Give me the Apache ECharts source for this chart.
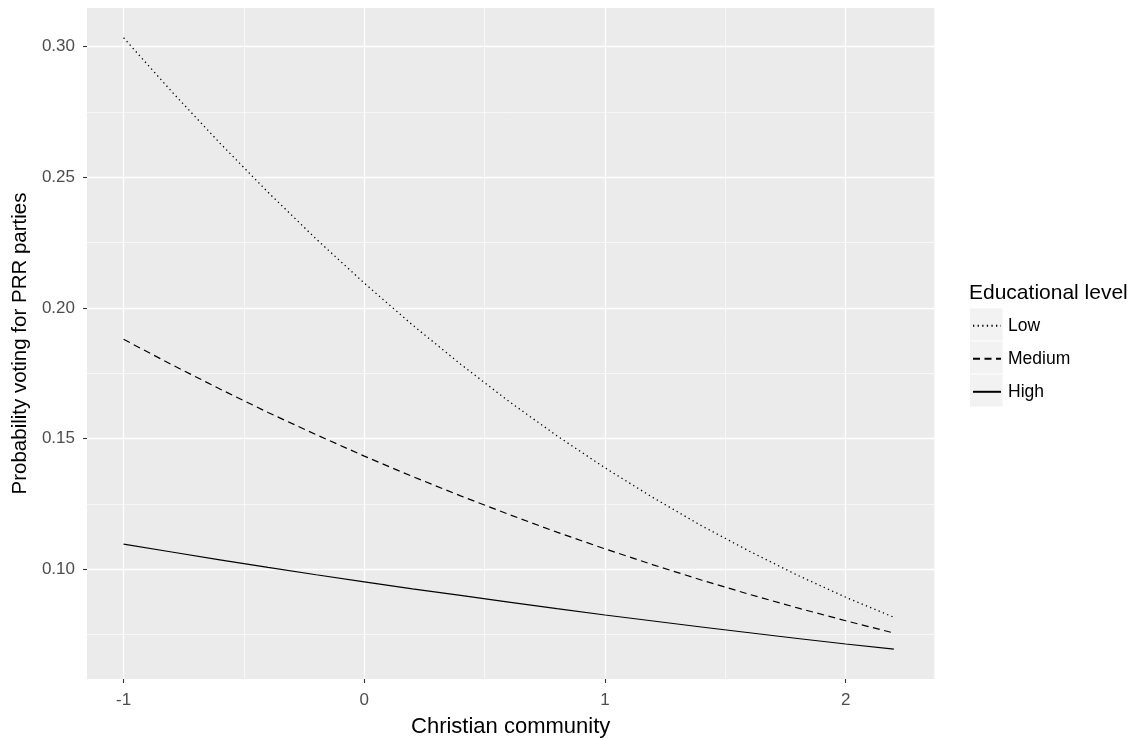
<!DOCTYPE html>
<html>
<head>
<meta charset="utf-8">
<script src="https://cdn.jsdelivr.net/npm/echarts@6/dist/echarts.min.js"></script>
<style>html,body{margin:0;padding:0;background:#fff}#c{width:1136px;height:738px}</style>
</head>
<body>
<div id="c"></div>
<script>
const xValues = [-1, -0.8, -0.6, -0.4, -0.2, 0, 0.2, 0.4, 0.6, 0.8, 1.0, 1.2, 1.4, 1.6, 1.8, 2.0, 2.2];
const lowValues = [0.3034, 0.2828, 0.2631, 0.2443, 0.2264, 0.2095, 0.1935, 0.1785, 0.1643, 0.1511, 0.1388, 0.1274, 0.1167, 0.1069, 0.0977, 0.0893, 0.0816];
const mediumValues = [0.1880, 0.1783, 0.1690, 0.1600, 0.1515, 0.1433, 0.1355, 0.1281, 0.1210, 0.1142, 0.1078, 0.1017, 0.0959, 0.0904, 0.0852, 0.0803, 0.0756];
const highValues = [0.1096, 0.1066, 0.1036, 0.1007, 0.0979, 0.0952, 0.0925, 0.0900, 0.0874, 0.0849, 0.0825, 0.0802, 0.0779, 0.0757, 0.0735, 0.0714, 0.0694];
const seriesNames = ['Low', 'Medium', 'High'];
const xMajorTicks = [-1, 0, 1, 2];
const xMinorTicks = [-0.5, 0.5, 1.5];
const yMajorTicks = [0.10, 0.15, 0.20, 0.25, 0.30];
const yMinorTicks = [0.075, 0.125, 0.175, 0.225, 0.275];
const xTitle = 'Christian community';
const yTitle = 'Probability voting for PRR parties';
const legendTitle = 'Educational level';

const X_MIN = -1.152, X_MAX = 2.368, Y_MIN = 0.058, Y_MAX = 0.3148;
const FONT = 'Liberation Sans, Arial, sans-serif';

function pairs(ys) { return xValues.map((x, i) => [x, ys[i]]); }

const chart = echarts.init(document.getElementById('c'), null, {renderer: 'canvas'});

function minorAxis(kind, vals) {
  return {
    type: 'value', min: kind === 'x' ? X_MIN : Y_MIN, max: kind === 'x' ? X_MAX : Y_MAX,
    position: kind === 'x' ? 'top' : 'right',
    axisLine: {show: false, onZero: false}, axisTick: {show: false, customValues: vals},
    axisLabel: {show: false, customValues: vals},
    splitLine: {show: true, lineStyle: {color: '#ffffff', width: 0.6}}
  };
}

const styles = [
  {type: [1.3, 3.3], width: 1.3},
  {type: [7, 4.5], width: 1.2},
  {type: 'solid', width: 1.2}
];
const data = [lowValues, mediumValues, highValues];

chart.setOption({
  animation: false,
  backgroundColor: '#ffffff',
  grid: {left: 87, top: 8, right: 201.7, bottom: 59, show: true, backgroundColor: '#EBEBEB', borderWidth: 0,
    containLabel: false, outerBoundsMode: 'none'},
  title: {
    text: legendTitle, left: 969, top: 283, padding: 0,
    textStyle: {fontFamily: FONT, fontSize: 21, fontWeight: 'normal', color: '#000000'}
  },
  legend: seriesNames.map((n, i) => ({
    orient: 'vertical', left: 972, top: 313 + i * 33, itemWidth: 28, itemHeight: 32, itemGap: 0,
    data: [{name: n}],
    itemStyle: {opacity: 0, color: 'transparent', borderColor: 'transparent'},
    textStyle: {fontFamily: FONT, fontSize: 17.5, color: '#000000', padding: [0, 0, 0, 2]},
    padding: 0, selectedMode: false
  })),
  graphic: [0, 1, 2].map(i => ({
    type: 'rect', left: 970, top: 308.5 + i * 33, z: 0,
    shape: {width: 32.5, height: 32},
    style: {fill: '#F2F2F2'}
  })),
  xAxis: [
    {
      type: 'value', min: X_MIN, max: X_MAX,
      name: xTitle, nameLocation: 'middle', nameGap: 37,
      nameTextStyle: {fontFamily: FONT, fontSize: 22, color: '#000000'},
      axisLine: {show: false, onZero: false},
      axisTick: {show: true, length: 4, customValues: xMajorTicks, lineStyle: {color: '#333333', width: 1.1}},
      axisLabel: {customValues: xMajorTicks, fontFamily: FONT, fontSize: 17, color: '#4D4D4D', margin: 13},
      splitLine: {show: true, lineStyle: {color: '#ffffff', width: 1.3}}
    },
    minorAxis('x', xMinorTicks)
  ],
  yAxis: [
    {
      type: 'value', min: Y_MIN, max: Y_MAX,
      name: yTitle, nameLocation: 'middle', nameGap: 56, nameRotate: 90,
      nameTextStyle: {fontFamily: FONT, fontSize: 20.5, color: '#000000'},
      axisLine: {show: false, onZero: false},
      axisTick: {show: true, length: 4, customValues: yMajorTicks, lineStyle: {color: '#333333', width: 1.1}},
      axisLabel: {customValues: yMajorTicks, fontFamily: FONT, fontSize: 17, color: '#4D4D4D', margin: 12,
        formatter: v => v.toFixed(2)},
      splitLine: {show: true, lineStyle: {color: '#ffffff', width: 1.3}}
    },
    minorAxis('y', yMinorTicks)
  ],
  series: seriesNames.map((n, i) => ({
    name: n, type: 'line', xAxisIndex: 0, yAxisIndex: 0,
    data: pairs(data[i]), showSymbol: false, symbol: 'none', smooth: false,
    lineStyle: {color: '#000000', type: styles[i].type, width: styles[i].width},
    itemStyle: {color: '#000000'},
    z: 5
  }))
});
</script>
</body>
</html>
